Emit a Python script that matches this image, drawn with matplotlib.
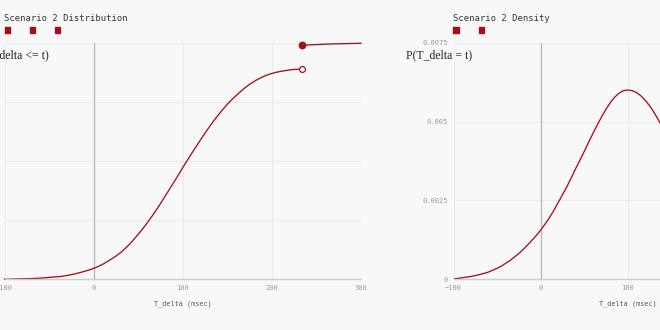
import matplotlib
matplotlib.use("Agg")
import matplotlib.pyplot as plt
from matplotlib.patches import Rectangle

# values (every 5 msec)
t_cdf = list(range(-100, 231, 5)) + [234]
p_cdf = [0.000, 0.0005, 0.001, 0.0015, 0.002, 0.0025, 0.003, 0.004, 0.005, 0.0065,
         0.008, 0.0095, 0.011, 0.013, 0.016, 0.0195, 0.024, 0.0285, 0.034, 0.0395,
         0.046, 0.054, 0.063, 0.074, 0.086, 0.098, 0.112, 0.129, 0.147, 0.168,
         0.190, 0.213, 0.238, 0.264, 0.291, 0.320, 0.350, 0.380, 0.410, 0.441,
         0.472, 0.502, 0.532, 0.561, 0.590, 0.618, 0.645, 0.671, 0.695, 0.718,
         0.740, 0.759, 0.777, 0.794, 0.810, 0.824, 0.836, 0.847, 0.856, 0.864,
         0.870, 0.875, 0.879, 0.882, 0.885, 0.887, 0.888, 0.889]
t_tail = [234, 250, 270, 300]
p_tail = [0.989, 0.992, 0.995, 0.9975]

t_pdf = list(range(-100, 151, 5)) + [160, 170, 180, 190, 200]
p_pdf = [0.00001, 0.00003, 0.00005, 0.00007, 0.00009, 0.00012, 0.00015, 0.00019,
         0.00023, 0.00029, 0.00035, 0.00042, 0.00051, 0.00060, 0.00071, 0.00082,
         0.00095, 0.00109, 0.00124, 0.00139, 0.00156, 0.00175, 0.00195, 0.00218,
         0.00243, 0.00268, 0.00293, 0.00321, 0.00350, 0.00377, 0.00405, 0.00434,
         0.00462, 0.00489, 0.00515, 0.00539, 0.00560, 0.00577, 0.00590, 0.00598,
         0.00600, 0.00598, 0.00592, 0.00582, 0.00568, 0.00551, 0.00530, 0.00507,
         0.00482, 0.00454, 0.00425, 0.00365, 0.00305, 0.00250, 0.00195, 0.00150]

x_ticks = [-100, 0, 100, 200, 300]
cdf_ticks = [0, 0.25, 0.5, 0.75, 1.0]
pdf_ticks = [0, 0.0025, 0.005, 0.0075]
pdf_labels = ["0", "0.0025", "0.005", "0.0075"]

RED = "#a3101a"
BG = "#f8f8f8"
W, H = 660, 330

fig = plt.figure(figsize=(6.6, 3.3), dpi=100, facecolor=BG)


def px(x, y):
    return x / W, 1 - y / H


def style(ax, ylim, yticks):
    ax.set_facecolor(BG)
    ax.set_xlim(-100, 300)
    ax.set_ylim(*ylim)
    ax.set_xticks(x_ticks)
    ax.set_yticks(yticks)
    ax.grid(True, color="#ebebeb", linewidth=0.8)
    ax.set_axisbelow(True)
    for s in ["top", "right", "left"]:
        ax.spines[s].set_visible(False)
    ax.spines["bottom"].set_color("#cccccc")
    ax.spines["bottom"].set_linewidth(1)
    ax.axvline(0, color="#bbbbbb", linewidth=1, zorder=1)
    ax.tick_params(length=0, labelsize=5, labelcolor="#999999", pad=4)
    for lab in ax.get_xticklabels() + ax.get_yticklabels():
        lab.set_family("DejaVu Sans Mono")
    ax.set_xlabel("T_delta (msec)", family="DejaVu Sans Mono", fontsize=4.9,
                  color="#555555", labelpad=7)


# distribution panel
ax1 = fig.add_axes([4.5 / W, 1 - 279.3 / H, 356.5 / W, 236.6 / H])
style(ax1, (0, 1.0), cdf_ticks)
ax1.tick_params(axis="y", labelleft=False)
ax1.plot(t_cdf, p_cdf, color=RED, linewidth=0.95, clip_on=False)
ax1.plot(t_tail, p_tail, color=RED, linewidth=0.95, clip_on=False)
ax1.plot(t_cdf[-1], p_cdf[-1], "o", ms=4.2, mfc="white", mec=RED, mew=0.9,
         clip_on=False, zorder=5)
ax1.plot(t_tail[0], p_tail[0], "o", ms=4.6, color=RED, clip_on=False, zorder=5)

# density panel
ax2 = fig.add_axes([453.7 / W, 1 - 279.3 / H, 348 / W, 236.6 / H])
style(ax2, (0, 0.0075), pdf_ticks)
ax2.set_yticklabels(pdf_labels, family="DejaVu Sans Mono")
ax2.plot(t_pdf, p_pdf, color=RED, linewidth=0.95)

# titles, legend squares, y labels
fig.text(*px(4.5, 18.5), "Scenario 2 Distribution", family="DejaVu Sans Mono",
         fontsize=6.4, color="#333333", va="center", ha="left")
fig.text(*px(453, 18.5), "Scenario 2 Density", family="DejaVu Sans Mono",
         fontsize=6.4, color="#333333", va="center", ha="left")
for x in [4.7, 30, 55, 453.3, 478.7]:
    fig.add_artist(Rectangle(px(x, 32.7), 5.3 / W, 5.3 / H, color=RED,
                             transform=fig.transFigure))

fig.text(*px(49, 55), "P(T_delta <= t)", family="Liberation Serif",
         fontsize=8.5, color="#222222", va="center", ha="right")
fig.text(*px(406, 55), "P(T_delta = t)", family="Liberation Serif",
         fontsize=8.5, color="#222222", va="center", ha="left")

fig.savefig("out.png", dpi=100, facecolor=BG)
